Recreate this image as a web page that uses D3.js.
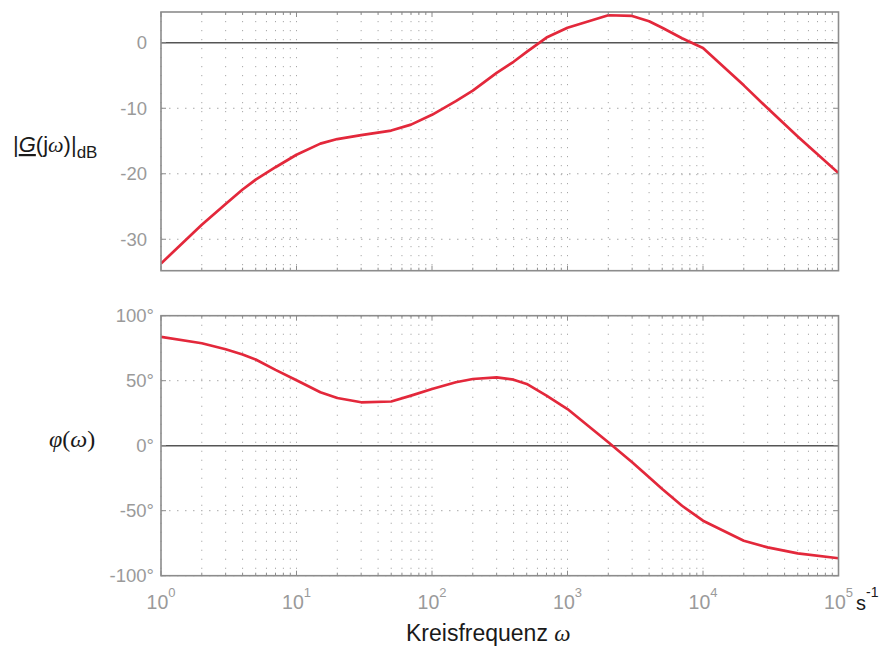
<!DOCTYPE html>
<html>
<head>
<meta charset="utf-8">
<script src="https://cdn.jsdelivr.net/npm/d3@7"></script>
<style>
    body { margin: 0; background: #fff; }
    svg { display: block; font-family: "Liberation Sans", Arial, sans-serif; }
</style>
</head>
<body>
<svg id="chart" width="883" height="648"></svg>
<script>
var omega = [1, 2, 3, 4, 5, 7, 10, 15, 20, 30, 50, 70, 100, 150, 200, 300, 400, 500, 700,
    1000, 2000, 3000, 4000, 5000, 7000, 10000, 20000, 30000, 50000, 100000];

//Magnitude in dB.
var magDb = [-33.7, -27.8, -24.6, -22.4, -20.9, -19.0, -17.1, -15.4, -14.7, -14.1, -13.4, -12.5, -11.0, -8.9, -7.3, -4.6, -2.9, -1.4, 0.8,
    2.3, 4.2, 4.1, 3.3, 2.3, 0.7, -0.8, -6.5, -10.0, -14.3, -19.9];

//Phase in degrees.
var phaseDeg = [83.8, 78.8, 74.2, 70.2, 66.3, 58.3, 50.3, 41.1, 36.7, 33.4, 34.0, 38.5, 43.6, 48.8, 51.3, 52.6, 50.8, 47.5, 38.5,
    28.2, 2.6, -12.8, -24.3, -33.3, -46.2, -57.7, -73.1, -78.2, -82.8, -86.6];

//Tick values.
var magTicks = [0, -10, -20, -30];
var phaseTicks = [100, 50, 0, -50, -100];
var decades = [0, 1, 2, 3, 4, 5];

(function () {

    var svg = d3.select("#chart");

    var left = 161,
        right = 838.5;

    var x = d3.scaleLog().domain([1, 1e5]).range([left, right]);

    //Every 1..9 x 10^k position for the log grid.
    var logTicks = [];
    for (var k = 0; k < 5; k++) {
        for (var m = 1; m < 10; m++) {
            logTicks.push(m * Math.pow(10, k));
        }
    }
    logTicks.push(1e5);

    var magY = d3.scaleLinear().domain([-34.8, 4.7]).range([270.7, 12]);
    var phaseY = d3.scaleLinear().domain([-100, 100]).range([575.7, 315.7]);

    drawPanel(magY, magDb, magTicks, function (v) { return v; }, 147, "clipTop");
    drawPanel(phaseY, phaseDeg, phaseTicks, function (v) { return v + "\u00b0"; }, 154, "clipBottom");

    //Draws one Bode panel with its grid, curve, frame and y labels.
    function drawPanel(y, values, ticks, fmt, labelX, clipId) {
        var top = y.range()[1],
            bottom = y.range()[0];

        var g = svg.append("g");

        g.append("clipPath")
            .attr("id", clipId)
            .append("rect")
            .attr("x", left)
            .attr("y", top)
            .attr("width", right - left)
            .attr("height", bottom - top);

        //Vertical dotted grid.
        g.selectAll(".vgrid")
            .data(logTicks)
            .enter()
            .append("line")
            .attr("x1", function (d) { return x(d); })
            .attr("x2", function (d) { return x(d); })
            .attr("y1", top)
            .attr("y2", bottom)
            .attr("stroke", "#a8a8a8")
            .attr("stroke-width", 1)
            .attr("stroke-dasharray", "1.2,7.8");

        //Horizontal dotted grid (0 gets a solid line).
        g.selectAll(".hgrid")
            .data(ticks.filter(function (d) { return d !== 0; }))
            .enter()
            .append("line")
            .attr("x1", left)
            .attr("x2", right)
            .attr("y1", function (d) { return y(d); })
            .attr("y2", function (d) { return y(d); })
            .attr("stroke", "#a8a8a8")
            .attr("stroke-width", 1)
            .attr("stroke-dasharray", "1.5,6.5");

        g.append("line")
            .attr("x1", left)
            .attr("x2", right)
            .attr("y1", y(0))
            .attr("y2", y(0))
            .attr("stroke", "#555")
            .attr("stroke-width", 1.6);

        //The curve.
        var line = d3.line()
            .x(function (d, i) { return x(omega[i]); })
            .y(function (d) { return y(d); });

        g.append("path")
            .datum(values)
            .attr("clip-path", "url(#" + clipId + ")")
            .attr("d", line)
            .attr("fill", "none")
            .attr("stroke", "#e3283b")
            .attr("stroke-width", 2.7)
            .attr("stroke-linejoin", "round");

        //Frame.
        g.append("rect")
            .attr("x", left)
            .attr("y", top)
            .attr("width", right - left)
            .attr("height", bottom - top)
            .attr("fill", "none")
            .attr("stroke", "#8c8c8c")
            .attr("stroke-width", 1.6);

        //Inward ticks on top and bottom edges.
        logTicks.forEach(function (d) {
            var len = Math.abs(Math.log10(d) - Math.round(Math.log10(d))) < 1e-9 ? 5 : 3;
            g.append("line")
                .attr("x1", x(d)).attr("x2", x(d))
                .attr("y1", top).attr("y2", top + len)
                .attr("stroke", "#8c8c8c").attr("stroke-width", 1);
            g.append("line")
                .attr("x1", x(d)).attr("x2", x(d))
                .attr("y1", bottom).attr("y2", bottom - len)
                .attr("stroke", "#8c8c8c").attr("stroke-width", 1);
        });

        //Inward ticks on left and right edges.
        ticks.forEach(function (d) {
            g.append("line")
                .attr("x1", left).attr("x2", left + 5)
                .attr("y1", y(d)).attr("y2", y(d))
                .attr("stroke", "#8c8c8c").attr("stroke-width", 1);
            g.append("line")
                .attr("x1", right).attr("x2", right - 5)
                .attr("y1", y(d)).attr("y2", y(d))
                .attr("stroke", "#8c8c8c").attr("stroke-width", 1);
        });

        //Y tick labels.
        g.selectAll(".ylab")
            .data(ticks)
            .enter()
            .append("text")
            .attr("x", labelX)
            .attr("y", function (d) { return y(d) + 6.5; })
            .attr("text-anchor", "end")
            .attr("font-size", 18.5)
            .attr("fill", "#9a9a9a")
            .text(function (d) { return fmt(d); });
    }

    //X tick labels as 10^k.
    var xlab = svg.selectAll(".xlab")
        .data(decades)
        .enter()
        .append("text")
        .attr("x", function (d) { return x(Math.pow(10, d)); })
        .attr("y", 609)
        .attr("text-anchor", "middle")
        .attr("font-size", 19.5)
        .attr("fill", "#9a9a9a");
    xlab.append("tspan").text("10");
    xlab.append("tspan")
        .attr("font-size", 13)
        .attr("dy", -12)
        .text(function (d) { return d; });

    //Unit.
    var unit = svg.append("text")
        .attr("x", 856)
        .attr("y", 610)
        .attr("font-size", 20)
        .attr("fill", "#1a1a1a");
    unit.append("tspan").text("s");
    unit.append("tspan").attr("font-size", 14).attr("dy", -13).text("-1");

    //X axis title.
    var xTitle = svg.append("text")
        .attr("x", 406)
        .attr("y", 641)
        .attr("font-size", 23)
        .attr("fill", "#1a1a1a");
    xTitle.append("tspan").text("Kreisfrequenz ");
    xTitle.append("tspan")
        .attr("font-family", "'Liberation Serif', serif")
        .attr("font-style", "italic")
        .text("\u03c9");

    //Magnitude title |G(jw)|dB.
    var magTitle = svg.append("text")
        .attr("x", 13)
        .attr("y", 152)
        .attr("font-size", 22)
        .attr("fill", "#1a1a1a");
    magTitle.append("tspan").text("|");
    magTitle.append("tspan")
        .attr("font-style", "italic")
        .style("text-decoration", "underline")
        .text("G");
    magTitle.append("tspan").text("(j");
    magTitle.append("tspan")
        .attr("font-family", "'Liberation Serif', serif")
        .attr("font-style", "italic")
        .text("\u03c9");
    magTitle.append("tspan").text(")|");
    magTitle.append("tspan")
        .attr("font-size", 17)
        .attr("dy", 6)
        .text("dB");

    //Phase title phi(w).
    var phaseTitle = svg.append("text")
        .attr("x", 49)
        .attr("y", 447)
        .attr("font-size", 24)
        .attr("font-family", "'Liberation Serif', serif")
        .attr("fill", "#1a1a1a");
    phaseTitle.append("tspan").attr("font-style", "italic").text("\u03c6");
    phaseTitle.append("tspan").text("(");
    phaseTitle.append("tspan").attr("font-style", "italic").text("\u03c9");
    phaseTitle.append("tspan").text(")");

})();
</script>
</body>
</html>
